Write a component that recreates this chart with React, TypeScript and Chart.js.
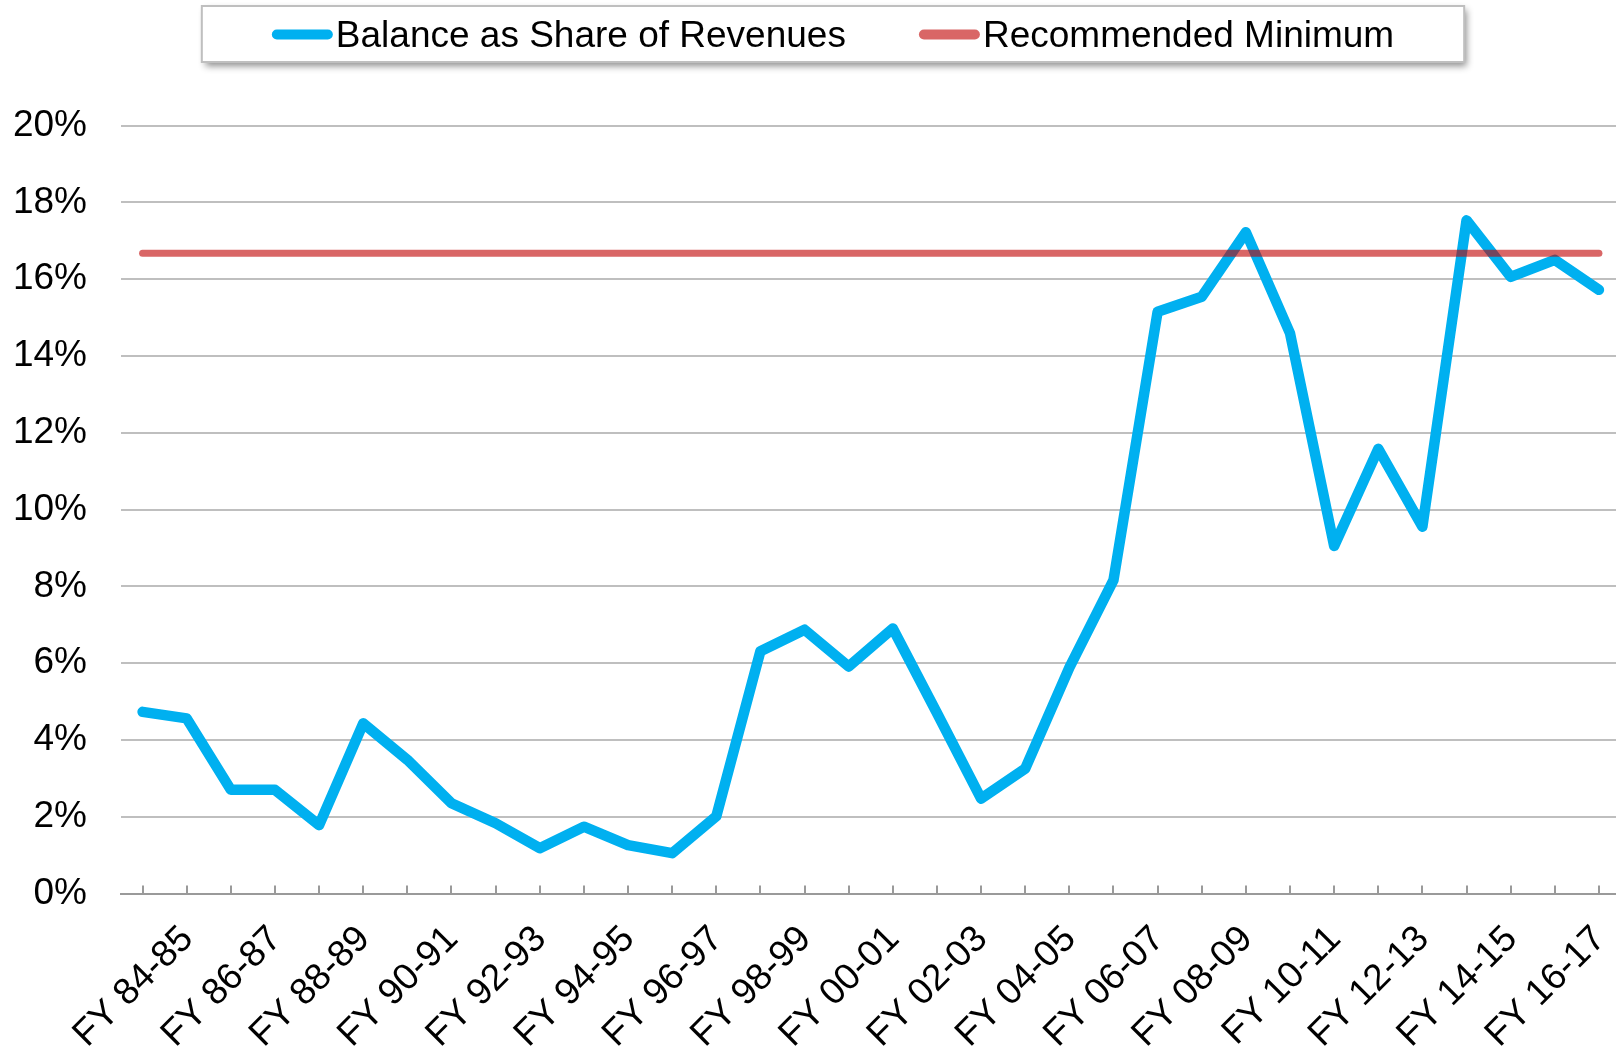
import React, { useEffect, useRef } from "react";
import { Chart, registerables } from "chart.js";

Chart.register(...registerables);

const FONT_FAMILY = "'Liberation Sans', Arial, Helvetica, sans-serif";

const categories = [
  "FY 84-85", "FY 85-86", "FY 86-87", "FY 87-88", "FY 88-89", "FY 89-90",
  "FY 90-91", "FY 91-92", "FY 92-93", "FY 93-94", "FY 94-95", "FY 95-96",
  "FY 96-97", "FY 97-98", "FY 98-99", "FY 99-00", "FY 00-01", "FY 01-02",
  "FY 02-03", "FY 03-04", "FY 04-05", "FY 05-06", "FY 06-07", "FY 07-08",
  "FY 08-09", "FY 09-10", "FY 10-11", "FY 11-12", "FY 12-13", "FY 13-14",
  "FY 14-15", "FY 15-16", "FY 16-17", "FY 17-18",
];

const shownTickLabels = [
  "FY 84-85", "FY 86-87", "FY 88-89", "FY 90-91", "FY 92-93", "FY 94-95",
  "FY 96-97", "FY 98-99", "FY 00-01", "FY 02-03", "FY 04-05", "FY 06-07",
  "FY 08-09", "FY 10-11", "FY 12-13", "FY 14-15", "FY 16-17",
];

// Balance as share of revenues (%)
const balanceShare = [
  4.73, 4.56, 2.70, 2.70, 1.78, 4.43, 3.48, 2.35, 1.83, 1.18, 1.74, 1.26,
  1.05, 2.01, 6.31, 6.87, 5.91, 6.90, 4.70, 2.47, 3.25, 5.88, 8.16, 15.15,
  15.54, 17.22, 14.59, 9.05, 11.58, 9.55, 17.53, 16.06, 16.50, 15.72,
];

// Recommended minimum (%)
const recommendedMinimum = [
  16.67, 16.67, 16.67, 16.67, 16.67, 16.67, 16.67, 16.67, 16.67, 16.67,
  16.67, 16.67, 16.67, 16.67, 16.67, 16.67, 16.67, 16.67, 16.67, 16.67,
  16.67, 16.67, 16.67, 16.67, 16.67, 16.67, 16.67, 16.67, 16.67, 16.67,
  16.67, 16.67, 16.67, 16.67,
];

const seriesLabels = ["Balance as Share of Revenues", "Recommended Minimum"];
const seriesColors = ["#00B0F0", "rgba(192,0,0,0.6)"];

const Y_MIN = 0;
const Y_MAX = 20;
const Y_STEP = 2;

const tickMarksPlugin = {
  id: "tickMarks",
  beforeDatasetsDraw(chart: any) {
    const xs = chart.scales.x;
    const ctx = chart.ctx;
    const bottom = chart.chartArea.bottom;
    ctx.save();
    ctx.strokeStyle = "#9A9A9A";
    ctx.lineWidth = 2;
    for (let i = 0; i < categories.length; i++) {
      const px = Math.round(xs.getPixelForValue(i));
      ctx.beginPath();
      ctx.moveTo(px, bottom);
      ctx.lineTo(px, bottom - 8);
      ctx.stroke();
    }
    ctx.restore();
  },
};

const legendPlugin = {
  id: "boxLegend",
  afterDraw(chart: any) {
    const ctx = chart.ctx;
    const fontSize = 37;
    ctx.save();
    ctx.font = `${fontSize}px ${FONT_FAMILY}`;
    const items = chart.data.datasets.map((ds: any, i: number) => ({
      label: ds.label,
      color: seriesColors[i],
      w: ctx.measureText(ds.label).width,
    }));
    const sampleLen = 51;
    const sampleW = 10;
    const sampleTotal = sampleLen + sampleW;
    const gapText = 3;
    const gapItems = 73;
    const pad = 70;
    let content = 0;
    items.forEach((it: any, i: number) => {
      content += sampleTotal + gapText + it.w + (i < items.length - 1 ? gapItems : 0);
    });
    const boxW = content + pad * 2;
    const cx = 833;
    const boxX = cx - boxW / 2;
    const boxY = 6;
    const boxH = 56;
    const cy = boxY + boxH / 2 + 1.5;

    ctx.save();
    ctx.shadowColor = "rgba(0,0,0,0.45)";
    ctx.shadowBlur = 7;
    ctx.shadowOffsetX = 3;
    ctx.shadowOffsetY = 4;
    ctx.fillStyle = "#FFFFFF";
    ctx.fillRect(boxX, boxY, boxW, boxH);
    ctx.restore();
    ctx.strokeStyle = "#BFBFBF";
    ctx.lineWidth = 2;
    ctx.strokeRect(boxX, boxY, boxW, boxH);

    let x = boxX + pad;
    items.forEach((it: any) => {
      ctx.beginPath();
      ctx.strokeStyle = it.color;
      ctx.lineWidth = sampleW;
      ctx.lineCap = "round";
      ctx.moveTo(x + sampleW / 2, cy - 1);
      ctx.lineTo(x + sampleW / 2 + sampleLen, cy - 1);
      ctx.stroke();
      x += sampleTotal + gapText;
      ctx.fillStyle = "#000000";
      ctx.textAlign = "left";
      ctx.textBaseline = "middle";
      ctx.fillText(it.label, x, cy + 1);
      x += it.w + gapItems;
    });
    ctx.restore();
  },
};

export default function App() {
  const ref = useRef<HTMLCanvasElement>(null);

  useEffect(() => {
    const canvas = ref.current;
    if (!canvas) return;
    Chart.defaults.font.family = FONT_FAMILY;
    const chart = new Chart(canvas, {
      type: "line",
      data: {
        labels: categories,
        datasets: [
          {
            label: seriesLabels[0],
            data: balanceShare,
            borderColor: seriesColors[0],
            backgroundColor: seriesColors[0],
            borderWidth: 10.5,
            pointRadius: 0,
            borderCapStyle: "round",
            borderJoinStyle: "round",
            tension: 0,
            fill: false,
            order: 1,
          },
          {
            label: seriesLabels[1],
            data: recommendedMinimum,
            borderColor: seriesColors[1],
            backgroundColor: seriesColors[1],
            borderWidth: 7,
            pointRadius: 0,
            borderCapStyle: "round",
            tension: 0,
            fill: false,
            order: 0,
          },
        ],
      },
      options: {
        responsive: false,
        animation: false,
        devicePixelRatio: 1,
        layout: { padding: { top: 125.5, left: 0, right: 0, bottom: 0 } },
        plugins: {
          legend: { display: false },
          tooltip: { enabled: false },
        },
        scales: {
          x: {
            type: "category",
            offset: true,
            grid: { display: true, drawOnChartArea: false, drawTicks: false },
            border: { display: true, color: "#9A9A9A", width: 2 },
            ticks: {
              autoSkip: false,
              maxRotation: 45,
              minRotation: 45,
              labelOffset: 45,
              padding: 24,
              color: "#000000",
              font: { size: 37, family: FONT_FAMILY },
              callback: (_v: any, i: number) =>
                shownTickLabels.includes(categories[i]) ? categories[i] : "",
            },
            afterFit: (s: any) => {
              s.height = 157.5;
              s.paddingLeft = 0;
              s.paddingRight = 0;
            },
          },
          y: {
            min: Y_MIN,
            max: Y_MAX,
            grid: { color: "#BFBFBF", lineWidth: 2, drawTicks: false },
            border: { display: false },
            ticks: {
              stepSize: Y_STEP,
              padding: 33.5,
              color: "#000000",
              font: { size: 37, family: FONT_FAMILY },
              callback: (v: any) => `${v}%`,
            },
            afterFit: (s: any) => {
              s.width = 120.5;
            },
          },
        },
      },
      plugins: [tickMarksPlugin, legendPlugin],
    } as any);
    return () => chart.destroy();
  }, []);

  return (
    <div
      style={{
        position: "absolute",
        left: 0,
        top: 0,
        width: 1616,
        height: 1051,
        overflow: "hidden",
        background: "#FFFFFF",
      }}
    >
      <canvas ref={ref} width={1621} height={1051} style={{ display: "block" }} />
    </div>
  );
}
